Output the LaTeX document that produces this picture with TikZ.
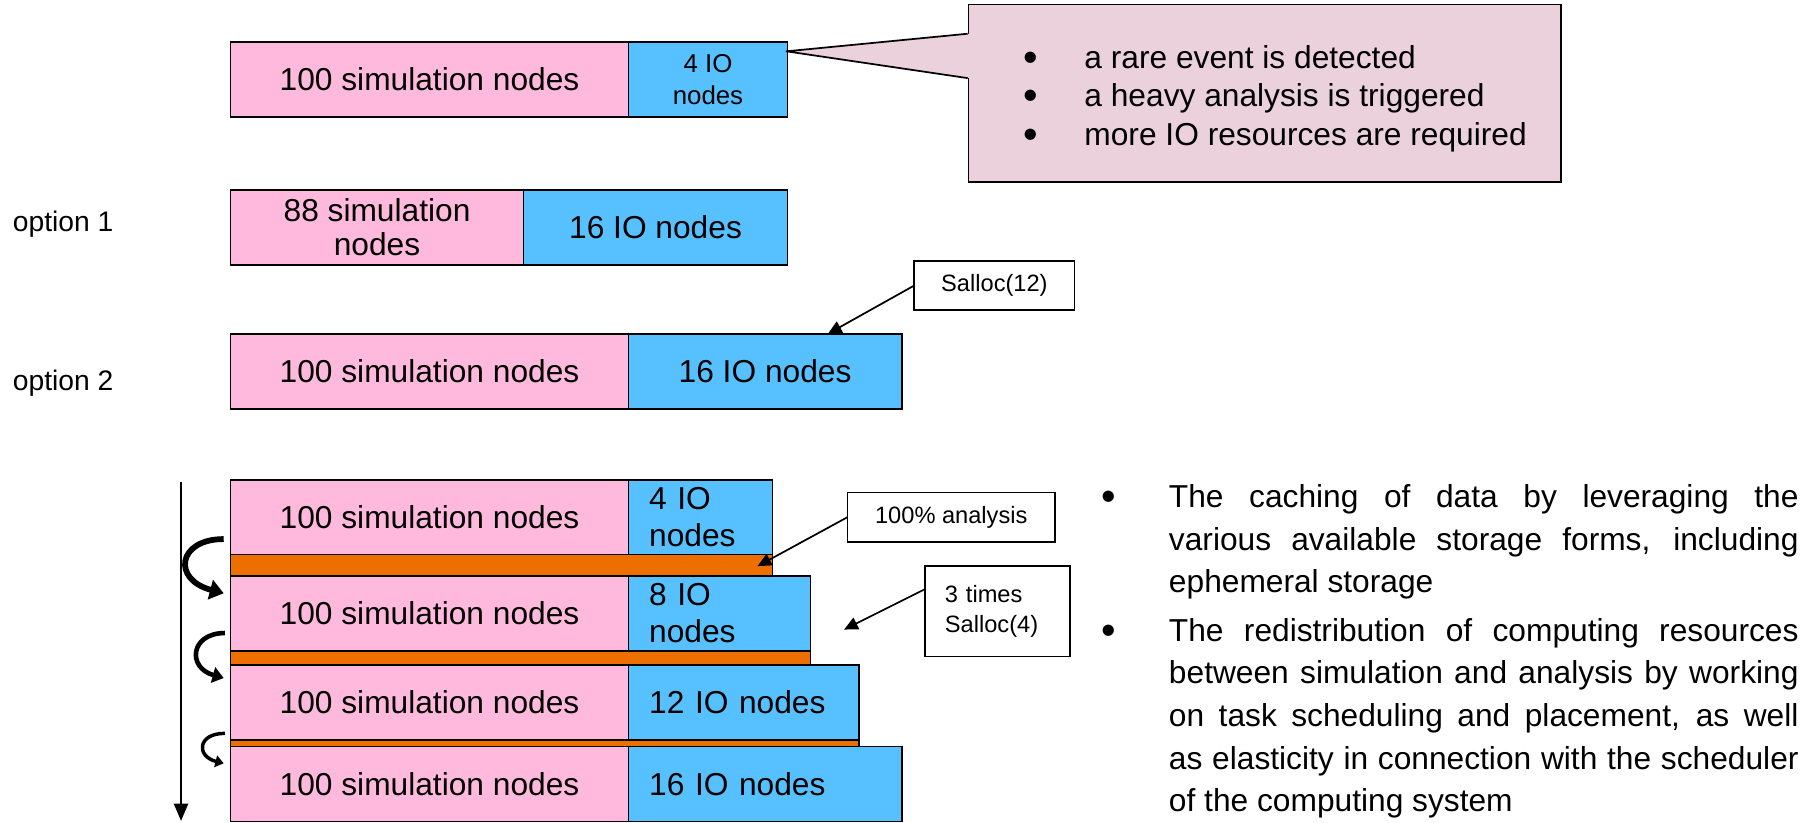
\documentclass[tikz,border=0pt]{standalone}
\usepackage{fontspec}
\setmainfont{Liberation Sans}
\usepackage{tikz}
\usetikzlibrary{positioning,calc,arrows.meta}
\definecolor{simpink}{RGB}{255,185,220}
\definecolor{ioblue}{RGB}{87,192,255}
\definecolor{anaorange}{RGB}{237,111,0}
\definecolor{notepink}{RGB}{234,209,220}
\newcommand{\rowfnt}{\fontsize{27.5}{29.5}\selectfont}
\newcommand{\stackfnt}{\fontsize{27.5}{32}\selectfont}
\newcommand{\iofnt}{\fontsize{22.4}{28}\selectfont}
\newcommand{\labfnt}{\fontsize{20.5}{26}\selectfont}
\newcommand{\optfnt}{\fontsize{24.5}{29}\selectfont}
\newcommand{\bul}{\raisebox{-2.5pt}{\fontsize{36}{36}\selectfont\textbullet}}

\begin{document}
\begin{tikzpicture}[x=1pt, y=-1pt,
    box/.style={draw, line width=1.5pt, inner sep=0pt, outer sep=0pt, minimum height=65pt},
    sim/.style={box, fill=simpink, font=\rowfnt, align=center},
    io/.style={box, fill=ioblue, font=\rowfnt, align=center},
    ioleft/.style={box, fill=ioblue, font=\stackfnt, align=left, inner xsep=18pt, text width=#1},
    bar/.style={draw, line width=1.5pt, fill=anaorange, inner sep=0pt, outer sep=0pt, minimum width=#1},
    lab/.style={draw, line width=1.5pt, fill=white, font=\labfnt, inner sep=0pt, outer sep=0pt},
    ptr/.style={line width=1.5pt, -{Triangle[length=12pt,width=11pt]}},
    turn/.style={line width=#1, -{Triangle[length=2.4*#1,width=3.4*#1]}}]
    \useasboundingbox (0,0) rectangle (1568,713);

    \node[sim, minimum width=345pt] (sim0) at (372.5,69) {100 simulation nodes};
    \node[io, minimum width=138pt, font=\iofnt, right=0pt of sim0] (io0) {4 IO\\nodes};

    \node[draw, line width=1.5pt, fill=notepink, inner sep=0pt,
          minimum width=514pt, minimum height=154pt,
          font=\fontsize{27.5}{33.5}\selectfont] (event) at (1097,81)
        {\raisebox{-5pt}[\height][\depth]{\begin{tabular}{@{\hspace{18pt}}l@{\hspace{40pt}}l@{}}
            \bul & a rare event is detected\\
            \bul & a heavy analysis is triggered\\
            \bul & more IO resources are required
        \end{tabular}}};
    \coordinate (evTip) at ($(io0.north east)+(-1,8)$);
    \fill[notepink] (evTip) -- ($(event.north west)+(1.6,26)$) -- ($(event.north west)+(1.6,64.5)$) -- cycle;
    \draw[line width=1.5pt, line join=round] ($(event.north west)+(0,26)$) -- (evTip) -- ($(event.north west)+(0,64.5)$);

    \node[anchor=west, inner sep=0pt, font=\optfnt] (opt1) at (11,194) {option 1};
    \node[sim, minimum width=254pt] (sim1) at (327,197) {88 simulation\\nodes};
    \node[io, minimum width=229pt, right=0pt of sim1] (io1) {16 IO nodes};

    \node[anchor=west, inner sep=0pt, font=\optfnt] (opt2) at (11,332) {option 2};
    \node[sim, minimum width=345pt] (sim2) at (372.5,322) {100 simulation nodes};
    \node[io, minimum width=237pt, right=0pt of sim2] (io2) {16 IO nodes};

    \node[lab, minimum width=139pt, minimum height=43pt] (salloc) at (862.4,247.6) {Salloc(12)};
    \coordinate (hit2) at ($(io2.north west)+(173,0)$);
    \draw[ptr] (salloc.west) -- (hit2);

    \node[sim, minimum width=345pt] (simA) at (372.5,448.5) {100 simulation nodes};
    \node[ioleft=89pt, right=0pt of simA] (ioA) {4 IO\\nodes};
    \node[bar=470pt, minimum height=18.5pt, anchor=north west] (barA) at (simA.south west) {};
    \node[sim, minimum width=345pt, anchor=north west] (simB) at (barA.south west) {100 simulation nodes};
    \node[ioleft=122pt, right=0pt of simB] (ioB) {8 IO\\nodes};
    \node[bar=503pt, minimum height=12pt, anchor=north west] (barB) at (simB.south west) {};
    \node[sim, minimum width=345pt, anchor=north west] (simC) at (barB.south west) {100 simulation nodes};
    \node[ioleft=164pt, right=0pt of simC] (ioC) {12 IO nodes};
    \node[bar=545pt, minimum height=6pt, anchor=north west] (barC) at (simC.south west) {};
    \node[sim, minimum width=345pt, anchor=north west] (simD) at (barC.south west) {100 simulation nodes};
    \node[ioleft=201pt, right=0pt of simD] (ioD) {16 IO nodes};

    \coordinate (tTop) at (157,418);
    \coordinate (tBot) at (157,712);
    \draw[line width=2.5pt, -{Triangle[length=15pt,width=12pt]}] (tTop) -- (tBot);

    \draw[turn=5pt] ($(simA.west)+(-6,19)$) .. controls +(-40,0) and +(-45,-12) .. ($(simB.west)+(-6,-17.5)$);
    \draw[turn=4pt] ($(simB.west)+(-5,17)$) .. controls +(-30,0) and +(-32,-9) .. ($(simC.west)+(-6,-21)$);
    \draw[turn=3pt] ($(simC.west)+(-5,27)$) .. controls +(-24,0) and +(-24,-6) .. ($(simD.west)+(-6,-18)$);

    \node[lab, minimum width=180pt, minimum height=43pt] (ana) at (825,448.5) {100\% analysis};
    \coordinate (hitA) at ($(barA.north east)+(-13,10)$);
    \draw[ptr] (ana.west) -- (hitA);

    \node[lab, text width=91pt, inner xsep=17.5pt, minimum height=78.5pt, align=left] (times) at (865,530) {3 times\\Salloc(4)};
    \coordinate (hitB) at ($(ioB.east)+(29,14)$);
    \draw[ptr] ([yshift=19pt]times.west) -- (hitB);

    \node[anchor=north west, text width=546pt, align=justify, inner sep=0pt,
          font=\fontsize{27.5}{37}\selectfont] (notes) at (1013.6,420)
        {\tolerance=10000\hyphenpenalty=10000\parindent=0pt\parskip=5pt
        \leavevmode\llap{\bul\hspace{46pt}}The caching of data by leveraging the\linebreak
        various available storage forms, including\linebreak
        ephemeral storage\par
        \leavevmode\llap{\bul\hspace{46pt}}The redistribution of computing resources\linebreak
        between simulation and analysis by working\linebreak
        on task scheduling and placement, as well\linebreak
        as elasticity in connection with the scheduler\linebreak
        of the computing system};
\end{tikzpicture}
\end{document}
